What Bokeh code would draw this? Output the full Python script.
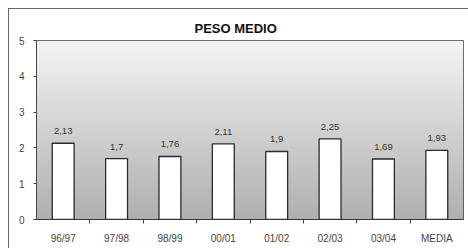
import numpy as np
from bokeh.plotting import figure
from bokeh.models import FixedTicker, Range1d, ColumnDataSource
from bokeh.embed import file_html
from bokeh.resources import INLINE
from bokeh.core.properties import value

categories = ["96/97", "97/98", "98/99", "00/01", "01/02", "02/03", "03/04", "MEDIA"]
peso = [2.13, 1.70, 1.76, 2.11, 1.90, 2.25, 1.69, 1.93]
labels = ["2,13", "1,7", "1,76", "2,11", "1,9", "2,25", "1,69", "1,93"]
y_ticks = [0, 1, 2, 3, 4, 5]

n = len(categories)
xs = [i + 0.5 for i in range(n)]
src = ColumnDataSource(dict(x=xs, top=peso, label=labels))

p = figure(width=460, height=240, output_backend="svg", toolbar_location=None,
           x_range=Range1d(0, n), y_range=Range1d(0, 5),
           min_border_left=27, min_border_right=6, min_border_top=31, min_border_bottom=30)
p.styles = {"position": "absolute", "left": "8px", "top": "8px",
            "border-left": "1px solid #666", "border-top": "1px solid #666"}

# gradient background
g = np.linspace(0.0, 1.0, 100).reshape(100, 1)
img = np.repeat(g, 4, axis=1)
pal = ["#%02x%02x%02x" % (v, v, v) for v in np.linspace(0xb0, 0xf4, 256).astype(int)]
p.image(image=[img], x=0, y=0, dw=n, dh=5, palette=pal)

p.vbar(x="x", top="top", width=0.41, bottom=0, source=src,
       fill_color="white", line_color="#2a2a2a", line_width=1.3)
p.text(x="x", y="top", text="label", source=src, text_align="center",
       text_baseline="bottom", y_offset=-9, text_font_size="9.5px",
       text_color="#333333", text_font=value("Liberation Sans"))

p.title.text = "PESO MEDIO"
p.title.align = "left"
p.title.offset = 158
p.title.text_font = "Liberation Sans"
p.title.text_font_size = "13px"
p.title.text_font_style = "bold"
p.title.text_color = "#111111"

p.grid.visible = False
p.outline_line_color = "#444444"
p.background_fill_color = None

p.xaxis.ticker = FixedTicker(ticks=xs, minor_ticks=list(range(1, n)))
p.xaxis.major_label_overrides = {x: c for x, c in zip(xs, categories)}
p.xaxis.major_tick_line_color = None
p.xaxis.minor_tick_line_color = "#444444"
p.xaxis.minor_tick_out = 4
p.xaxis.minor_tick_in = 0
p.xaxis.major_label_standoff = 7
p.xaxis.axis_line_color = "#333333"

p.yaxis.ticker = FixedTicker(ticks=y_ticks)
p.yaxis.minor_tick_line_color = None
p.yaxis.major_tick_out = 3
p.yaxis.major_tick_in = 0
p.yaxis.major_tick_line_color = "#444444"
p.yaxis.major_label_standoff = 9
p.yaxis.axis_line_color = "#444444"

for ax in (p.xaxis, p.yaxis):
    ax.major_label_text_font = "Liberation Sans"
    ax.major_label_text_font_size = "10px"
    ax.major_label_text_color = "#444444"

open("out.html", "w").write(file_html(p, INLINE))
